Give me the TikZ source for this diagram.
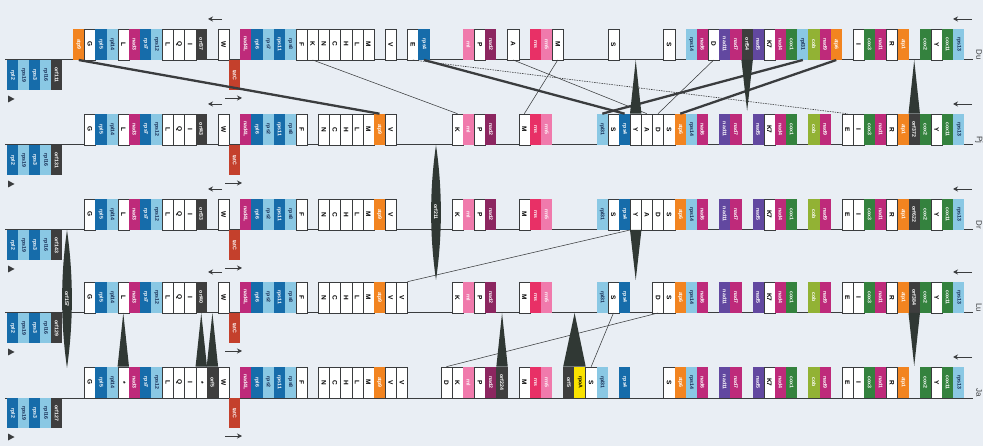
\documentclass[tikz,border=0pt]{standalone}
\usepackage{fontspec}
\setmainfont{Liberation Sans}
\usetikzlibrary{arrows.meta,calc}
\definecolor{bgc}{RGB}{233,238,244}
\definecolor{lnc}{RGB}{58,60,62}
\definecolor{corange}{RGB}{242,132,32}
\definecolor{cdblue}{RGB}{22,108,170}
\definecolor{clblue}{RGB}{138,200,228}
\definecolor{cmag}{RGB}{190,42,122}
\definecolor{cdmag}{RGB}{140,38,96}
\definecolor{cpur}{RGB}{98,72,160}
\definecolor{cgreen}{RGB}{52,130,62}
\definecolor{colive}{RGB}{146,178,52}
\definecolor{cpink}{RGB}{240,122,172}
\definecolor{crose}{RGB}{232,48,102}
\definecolor{corf}{RGB}{62,62,62}
\definecolor{cred}{RGB}{196,64,44}
\definecolor{cyel}{RGB}{250,226,0}
\definecolor{ctri}{RGB}{48,56,52}
\definecolor{ctxtlb}{RGB}{20,40,80}
\newcommand\gfont{\fontsize{5.2}{5.2}\selectfont\bfseries}
\newcommand\lfont{\fontsize{6.5}{6.5}\selectfont\bfseries}
\newcommand\genrowup[3]{%
  \foreach \s/\st/\t in {#3}{%
    \edef\gtmp{\noexpand\node[\st,anchor=south west] (r#1-\s) at ({73+11.14*\s},#2) {\noexpand\rotatebox{-90}{\t}};}\gtmp}}
\newcommand\genrowdn[3]{%
  \foreach \s/\st/\t in {#3}{%
    \edef\gtmp{\noexpand\node[\st,dn,anchor=north west] (d#1-\s) at ({7+11*\s},#2) {\noexpand\rotatebox{-90}{\t}};}\gtmp}}
\begin{document}
\begin{tikzpicture}[x=1pt,y=-1pt,
  gb/.style={rectangle,minimum width=11.14pt,minimum height=31pt,inner sep=0pt,line width=0.3pt,font=\gfont,text=white},
  dn/.style={minimum width=11pt,minimum height=30pt},
  W/.style={gb,fill=white,draw=lnc,text=black,font=\lfont},
  OR/.style={gb,fill=corange},
  DB/.style={gb,fill=cdblue},
  LB/.style={gb,fill=clblue,text=ctxtlb},
  MG/.style={gb,fill=cmag},
  DM/.style={gb,fill=cdmag},
  PU/.style={gb,fill=cpur},
  GR/.style={gb,fill=cgreen},
  OL/.style={gb,fill=colive},
  PK/.style={gb,fill=cpink},
  RS/.style={gb,fill=crose},
  OF/.style={gb,fill=corf},
  YE/.style={gb,fill=cyel,text=black},
  RD/.style={gb,fill=cred},
  base/.style={draw=lnc,line width=1pt},
  thk/.style={draw=lnc,line width=2.3pt},
  thn/.style={draw=lnc,line width=0.55pt},
  dsh/.style={draw=lnc,line width=0.6pt,dash pattern=on 1.5pt off 1pt},
  tri/.style={fill=ctri},
  arw/.style={draw=lnc,line width=0.9pt,-{Stealth[length=5pt,width=5pt]}},
  lensl/.style={inner sep=0pt,font=\gfont,text=white},
  rowl/.style={inner sep=0pt,font=\fontsize{8}{8}\selectfont,text=lnc}]
\useasboundingbox (0,0) rectangle (983,446);
\fill[bgc] (0,0) rectangle (983,446);
% baselines
\foreach \r/\b in {1/60,2/145,3/230,4/313,5/398}{
  \coordinate (L\r) at (5,\b);
  \coordinate (E\r) at (973,\b);
  \draw[base] (L\r) -- (E\r);
}
% ---------------- row 1 (Du)
\genrowup{1}{60}{0/OR/atp9,1/W/G,2/DB/rpl5,3/LB/rpl14,4/W/L,5/MG/nad3,6/DB/rps7,7/LB/rps12,8/W/L,9/W/Q,10/W/I,11/OF/orf37,13/W/W,
15/MG/nad4L,16/DB/rpl6,17/LB/rps7,18/DB/rps11,19/LB/rps8,20/W/F,21/W/K,22/W/N,23/W/C,24/W/H,25/W/L,26/W/M,28/W/V,30/W/E,31/DB/rps4,
35/PK/rnl,36/W/P,37/DM/nad2,39/W/A,41/RS/rns,42/PK/rrn5,43/W/M,48/W/S,53/W/S,55/LB/rps14,56/MG/nad6,57/W/D,58/PU/nad11,59/MG/nad7,
60/OF/orf54,61/PU/nad5,62/W/K7,63/MG/nad4,64/GR/cox1,65/LB/rpl31,66/OL/cob,67/MG/nad9,68/OR/atp6,70/W/I,71/GR/cox3,72/MG/nad1,
73/W/R,74/OR/atp1,76/GR/cox2,77/W/Y,78/GR/cox11,79/LB/rps13}
\genrowdn{1}{60}{0/DB/rpl2,1/LB/rps19,2/DB/rps3,3/LB/rpl16,4/OF/orf111}
\node[RD,dn,anchor=north west] (t1) at ({73+11.14*14},60) {\rotatebox{-90}{tatC}};
% ---------------- row 2 (Pj)
\genrowup{2}{145}{1/W/G,2/DB/rpl5,3/LB/rpl14,4/W/L,5/MG/nad3,6/DB/rps7,7/LB/rps12,8/W/L,9/W/Q,10/W/I,11/OF/orf43,13/W/W,
15/MG/nad4L,16/DB/rpl6,17/LB/rps2,18/DB/rps11,19/LB/rps8,20/W/F,22/W/N,23/W/C,24/W/H,25/W/L,26/W/M,27/OR/atp9,28/W/V,
34/W/K,35/PK/rnl,36/W/P,37/DM/nad2,40/W/M,41/RS/rns,42/PK/rrn5,47/LB/rpl31,48/W/S,49/DB/rps4,50/W/Y,51/W/A,52/W/D,
53/W/S,54/OR/atp6,55/LB/rps14,56/MG/nad6,58/PU/nad11,59/MG/nad7,61/PU/nad5,62/W/K7,63/MG/nad4,64/GR/cox1,66/OL/cob,67/MG/nad9,
69/W/E,70/W/I,71/GR/cox3,72/MG/nad1,73/W/R,74/OR/atp1,75/OF/orf372,76/GR/cox2,77/W/Y,78/GR/cox11,79/LB/rps13}
\genrowdn{2}{145}{0/DB/rpl2,1/LB/rps19,2/DB/rps3,3/LB/rpl16,4/OF/orf131}
\node[RD,dn,anchor=north west] (t2) at ({73+11.14*14},145) {\rotatebox{-90}{tatC}};
% ---------------- row 3 (Dr)
\genrowup{3}{230}{1/W/G,2/DB/rpl5,3/LB/rpl14,4/W/L,5/MG/nad3,6/DB/rps7,7/LB/rps12,8/W/L,9/W/Q,10/W/I,11/OF/orf33,13/W/W,
15/MG/nad4L,16/DB/rpl6,17/LB/rps2,18/DB/rps11,19/LB/rps8,20/W/F,22/W/N,23/W/C,24/W/H,25/W/L,26/W/M,27/OR/atp9,28/W/V,
34/W/K,35/PK/rnl,36/W/P,37/DM/nad2,40/W/M,41/RS/rns,42/PK/rrn5,47/LB/rpl31,48/W/S,49/DB/rps4,50/W/Y,51/W/A,52/W/D,
53/W/S,54/OR/atp6,55/LB/rps14,56/MG/nad6,58/PU/nad11,59/MG/nad7,61/PU/nad5,62/W/K7,63/MG/nad4,64/GR/cox1,66/OL/cob,67/MG/nad9,
69/W/E,70/W/I,71/GR/cox3,72/MG/nad1,73/W/R,74/OR/atp1,75/OF/orf622,76/GR/cox2,77/W/Y,78/GR/cox11,79/LB/rps13}
\genrowdn{3}{230}{0/DB/rpl2,1/LB/rps19,2/DB/rps3,3/LB/rpl16,4/OF/orf143}
\node[RD,dn,anchor=north west] (t3) at ({73+11.14*14},230) {\rotatebox{-90}{tatC}};
% ---------------- row 4 (Lu)
\genrowup{4}{313}{1/W/G,2/DB/rpl5,3/LB/rpl14,4/W/L,5/MG/nad3,6/DB/rps7,7/LB/rps12,8/W/L,9/W/Q,10/W/I,11/OF/orf40,13/W/W,
15/MG/nad4L,16/DB/rpl6,17/LB/rps2,18/DB/rps11,19/LB/rps8,20/W/F,22/W/N,23/W/C,24/W/H,25/W/L,26/W/M,27/OR/atp9,28/W/V,29/W/V,
34/W/K,35/PK/rnl,36/W/P,37/DM/nad2,40/W/M,41/RS/rns,42/PK/rrn5,47/LB/rpl31,48/W/S,49/DB/rps4,52/W/D,
53/W/S,54/OR/atp6,55/LB/rps14,56/MG/nad6,58/PU/nad11,59/MG/nad7,61/PU/nad5,62/W/K7,63/MG/nad4,64/GR/cox1,66/OL/cob,67/MG/nad9,
69/W/E,70/W/I,71/GR/cox3,72/MG/nad1,73/W/R,74/OR/atp1,75/OF/orf384,76/GR/cox2,77/W/Y,78/GR/cox11,79/LB/rps13}
\genrowdn{4}{313}{0/DB/rpl2,1/LB/rps19,2/DB/rps3,3/LB/rpl16,4/OF/orf129}
\node[RD,dn,anchor=north west] (t4) at ({73+11.14*14},313) {\rotatebox{-90}{tatC}};
% ---------------- row 5 (Ja)
\genrowup{5}{398}{1/W/G,2/DB/rpl5,3/LB/rpl14,4/W/*,5/MG/nad3,6/DB/rps7,7/LB/rps12,8/W/L,9/W/Q,10/W/I,11/W/*,12/OF/orf5,13/W/W,
15/MG/nad4L,16/DB/rpl6,17/LB/rps2,18/DB/rps11,19/LB/rps8,20/W/F,22/W/N,23/W/C,24/W/H,25/W/L,26/W/M,27/OR/atp9,28/W/V,29/W/V,
33/W/D,34/W/K,35/PK/rnl,36/W/P,37/DM/nad2,38/OF/orf224,40/W/M,41/RS/rns,42/PK/rrn5,44/OF/orf5,45/YE/rpoA,46/W/S,47/LB/rpl31,49/DB/rps4,
53/W/S,54/OR/atp6,55/LB/rps14,56/MG/nad6,58/PU/nad11,59/MG/nad7,61/PU/nad5,62/W/K7,63/MG/nad4,64/GR/cox1,66/OL/cob,67/MG/nad9,
69/W/E,70/W/I,71/GR/cox3,72/MG/nad1,73/W/R,74/OR/atp1,76/GR/cox2,77/W/Y,78/GR/cox11,79/LB/rps13}
\genrowdn{5}{398}{0/DB/rpl2,1/LB/rps19,2/DB/rps3,3/LB/rpl16,4/OF/orf127}
\node[RD,dn,anchor=north west] (t5) at ({73+11.14*14},398) {\rotatebox{-90}{tatC}};
% ---------------- connectors row 1 -> row 2
\draw[thk] (r1-0.south) -- (r2-27.north);
\draw[thn] (r1-21.south) -- (r2-34.north);
\draw[thk] (r1-31.south) -- (r2-49.north);
\draw[dsh] (r1-30.south) -- (r2-69.north);
\draw[thn] (r1-39.south) -- (r2-51.north);
\draw[thn] (r1-43.south) -- (r2-40.north);
\draw[thn] (r1-57.south) -- (r2-52.north);
\draw[thk] (r1-65.south) -- (r2-47.north);
\draw[thk] (r1-68.south) -- (r2-54.north);
% row 3 -> row 4
\draw[thn] (r3-50.south west) -- (r4-29.north east);
% row 4 -> row 5
\draw[thn] (r4-52.south) -- (r5-33.north);
\draw[thn] (r4-48.south) -- (r5-46.north);
% ---------------- insertions / deletions
\fill[tri] (r2-50.north |- L1) -- (r2-50.north east) -- (r2-50.north west) -- cycle;
\fill[tri] (r1-60.south west) -- (r1-60.south east) -- ([yshift=-51pt]r1-60.south) -- cycle;
\fill[tri] (r2-75.north |- L1) -- (r2-75.north east) -- (r2-75.north west) -- cycle;
\fill[tri] (r3-50.south west) -- (r3-50.south east) -- ([yshift=-50pt]r3-50.south) -- cycle;
\fill[tri] (r5-38.north |- L4) -- (r5-38.north east) -- (r5-38.north west) -- cycle;
\fill[tri] (r5-44.north east |- L4) -- (r5-45.north east) -- (r5-44.north west) -- cycle;
\fill[tri] (r4-75.south west) -- (r4-75.south east) -- ([yshift=-53pt]r4-75.south) -- cycle;
\foreach \k in {4,11,12}{\fill[tri] (r5-\k.north |- L4) -- (r5-\k.north east) -- (r5-\k.north west) -- cycle;}
% lenses
\fill[tri] (436,145) .. controls (442.5,190) and (442.5,235) .. (436,280) .. controls (429.5,235) and (429.5,190) .. (436,145) -- cycle;
\node[lensl] (o211) at (436,212) {\rotatebox{-90}{orf211}};
\fill[tri] (67,230) .. controls (73.5,276) and (73.5,322) .. (67,368) .. controls (60.5,322) and (60.5,276) .. (67,230) -- cycle;
\node[lensl] (o157) at (67,299) {\rotatebox{-90}{orf157}};
% ---------------- arrows and marks
\foreach \b in {60,145,230,313}{\draw[arw] (222,\b-41) -- (208,\b-41);}
\foreach \b in {60,145,230,313,398}{
  \draw[arw] (225,\b+38) -- (242,\b+38);
  \draw[arw] (972,\b-41) -- (953,\b-41);
  \fill[lnc] (8,\b+35.5) -- (14.5,\b+39) -- (8,\b+42.5) -- cycle;
}
% row labels
\node[rowl] (n1) at (979,55) {\rotatebox{-90}{Du}};
\node[rowl] (n2) at (979,140) {\rotatebox{-90}{Pj}};
\node[rowl] (n3) at (979,225) {\rotatebox{-90}{Dr}};
\node[rowl] (n4) at (979,308) {\rotatebox{-90}{Lu}};
\node[rowl] (n5) at (979,393) {\rotatebox{-90}{Ja}};
\end{tikzpicture}
\end{document}
